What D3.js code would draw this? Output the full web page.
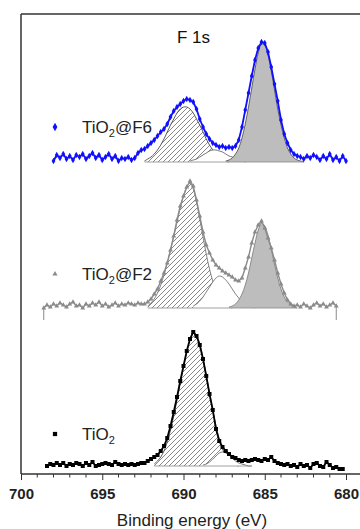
<!DOCTYPE html>
<html><head><meta charset="utf-8">
<script src="https://cdn.jsdelivr.net/npm/d3@7"></script>
<style>
html,body{margin:0;padding:0;background:#fff;}
svg{display:block;font-family:"Liberation Sans",Arial,sans-serif;}
</style></head><body>
<svg id="c" width="360" height="529"></svg>
<script>
// ---- DATA (binding energy grid: start energy, 0.2 eV step) ----
const step = 0.2;
const xTicks = [700, 695, 690, 685, 680];
const seriesNames = ["TiO2", "TiO2@F2", "TiO2@F6"];
const offsets = [8, 166, 312];           // vertical stacking offset of each spectrum (a.u.)

// TiO2 spectrum
const tio2Start = 698.4;
const tio2Data = [0,2,1,3,1,3,0,2,1,3,2,0,3,1,4,0,1,2,3,2,1,4,2,1,2,1,2,1,2,
  3,3,5,7,9,11,15,20,28,40,54,69,85,100,115,127,134,130,121,107,90,72,56,37,25,19,15,12,9,8,6,5,6,5,6,7,6,5,7,6,9,5,
  3,2,1,2,0,1,-1,2,0,1,-2,2,3,0,-1,4,1,-2,-1,-3,-3];
const tio2HatchStart = 691.8;
const tio2Hatch = [2,5,9,15,24,36,50,66,83,99,114,126,133,131,122,108,91,73,56,40,27,17,10,6,3,1,0];
const tio2WhiteStart = 688.8;
const tio2White = [1,2,4,7,10,13,14,13,11,8,5,3,2,1,0,0];

// TiO2@F2 spectrum
const f2Start = 698.6;
const f2Data = [0,3,1,4,2,5,3,1,4,6,2,3,0,4,2,5,3,6,2,4,1,3,5,2,4,3,5,4,3,5,4,
  4,6,9,14,19,27,35,45,58,72,88,102,112,121,127,122,108,92,76,63,55,48,43,40,37,35,33,31,28,27,30,40,51,65,76,83,87,80,70,60,48,35,24,15,8,4,2,3,
  1,4,2,0,3,5,2,4,1,3,5,2];
const f2HatchStart = 692.2;
const f2Hatch = [2,5,9,15,23,33,45,58,72,86,100,112,121,125,119,106,89,71,54,39,27,17,10,6,3,1,0];
const f2WhiteStart = 689.4;
const f2White = [2,4,7,11,16,21,26,30,32,31,28,24,19,14,10,6,4,2,1,0];
const f2GrayStart = 687.2;
const f2Gray = [1,2,4,8,14,23,35,50,65,78,85,82,73,59,44,30,19,11,6,3,1,0];

// TiO2@F6 spectrum
const f6Start = 698.0;
const f6Data = [1,7,4,8,3,6,2,7,5,8,3,6,9,4,7,2,5,8,3,6,1,4,3,5,2,4,
  9,12,13,16,19,22,26,30,33,38,45,51,55,58,61,63,62,60,53,43,35,28,23,19,17,15,16,14,15,14,16,22,35,52,69,86,102,114,120,119,110,95,78,61,42,28,19,12,8,6,5,
  3,6,4,7,5,2,6,3,8,2,5,1,6,1];
const f6HatchStart = 692.4;
const f6Hatch = [1,3,5,8,12,17,23,30,37,43,49,53,55,55,53,49,43,37,30,23,17,12,8,5,3,1,0];
const f6WhiteStart = 689.6;
const f6White = [1,2,3,5,7,9,11,12,12,11,10,8,6,5,3,2,1,0];
const f6GrayStart = 687.4;
const f6Gray = [1,2,4,8,14,24,38,55,74,93,109,118,117,107,91,72,53,37,24,14,8,4,2,1,0];

// ---- CHART ----
const svg = d3.select("#c");
const x = d3.scaleLinear().domain([700, 680]).range([21, 346]);
const y = d3.scaleLinear().domain([0, 460]).range([474, 14]);

const defs = svg.append("defs");
const pat = defs.append("pattern").attr("id","hatch").attr("patternUnits","userSpaceOnUse")
  .attr("width",5).attr("height",5);
pat.append("rect").attr("width",5).attr("height",5).attr("fill","#fff");
pat.append("path").attr("d","M-1,1 l2,-2 M0,5 l5,-5 M4,6 l2,-2")
  .attr("stroke","#555").attr("stroke-width",0.7);

const toPts = (start, arr) => arr.map((v,i)=>({e: +(start - i*step).toFixed(2), v}));

function drawSpectrum(k, data, comps, style){
  const off = offsets[k];
  const g = svg.append("g");
  const area = d3.area().x(d=>x(d.e)).y0(y(off)).y1(d=>y(off+d.v)).curve(d3.curveCatmullRom);
  const line = d3.line().x(d=>x(d.e)).y(d=>y(off+d.v)).curve(d3.curveCatmullRom);
  let lo = Infinity, hi = -Infinity;
  comps.forEach(c=>{ c.pts.forEach(p=>{lo=Math.min(lo,p.e);hi=Math.max(hi,p.e);}); });
  comps.forEach(c=>{
    g.append("path").datum(c.pts).attr("d",area).attr("fill",c.fill).attr("stroke","none");
    g.append("path").datum(c.pts).attr("d",line).attr("fill","none").attr("stroke",c.stroke).attr("stroke-width",0.8);
  });
  g.append("line").attr("x1",x(hi)).attr("x2",x(lo)).attr("y1",y(off)).attr("y2",y(off))
    .attr("stroke","#888").attr("stroke-width",0.8);
  const dl = d3.line().x(d=>x(d.e)).y(d=>y(off+d.v));
  g.append("path").datum(data).attr("d",dl).attr("fill","none").attr("stroke",style.color).attr("stroke-width",style.lw);
  const sym = d3.symbol().type(style.symbol).size(style.size);
  g.selectAll(".m").data(data).join("path").attr("d",sym)
    .attr("transform",d=>`translate(${x(d.e)},${y(off+d.v)})`).attr("fill",style.color);
}

// TiO2
drawSpectrum(0, toPts(tio2Start, tio2Data), [
  {pts: toPts(tio2HatchStart, tio2Hatch), fill:"url(#hatch)", stroke:"#333"},
  {pts: toPts(tio2WhiteStart, tio2White), fill:"#fff", stroke:"#555"}
], {color:"#000", symbol:d3.symbolSquare, size:16, lw:1.8});

// F2
const f2pts = toPts(f2Start, f2Data);
drawSpectrum(1, f2pts, [
  {pts: toPts(f2HatchStart, f2Hatch), fill:"url(#hatch)", stroke:"#666"},
  {pts: toPts(f2WhiteStart, f2White), fill:"#fff", stroke:"#666"},
  {pts: toPts(f2GrayStart, f2Gray), fill:"#bdbdbd", stroke:"#777"}
], {color:"#8a8a8a", symbol:d3.symbolTriangle, size:10, lw:1.4});
[f2pts[0].e, f2pts[f2pts.length-1].e].forEach(e=>{
  svg.append("line").attr("x1",x(e)).attr("x2",x(e)).attr("y1",y(offsets[1]+2)).attr("y2",y(offsets[1]-12))
    .attr("stroke","#8a8a8a").attr("stroke-width",1);
});

// F6
drawSpectrum(2, toPts(f6Start, f6Data), [
  {pts: toPts(f6HatchStart, f6Hatch), fill:"url(#hatch)", stroke:"#333"},
  {pts: toPts(f6WhiteStart, f6White), fill:"#fff", stroke:"#555"},
  {pts: toPts(f6GrayStart, f6Gray), fill:"#bdbdbd", stroke:"#444"}
], {color:"#1010ff", symbol:d3.symbolDiamond, size:12, lw:1.8});

// frame
svg.append("line").attr("x1",21).attr("x2",21).attr("y1",14).attr("y2",474).attr("stroke","#333").attr("stroke-width",1.5);
svg.append("line").attr("x1",21).attr("x2",360).attr("y1",14).attr("y2",14).attr("stroke","#333").attr("stroke-width",1.5);

// x axis
const ax = svg.append("g").attr("transform","translate(0,474)")
  .call(d3.axisBottom(x).tickValues(xTicks).tickSize(6).tickFormat(d3.format("d")));
ax.select(".domain").attr("d","M21,0H360").attr("stroke","#333").attr("stroke-width",1.5);
ax.selectAll(".tick line").attr("stroke","#333");
ax.selectAll(".tick text").attr("font-size",15).attr("font-weight","bold").attr("fill","#222")
  .attr("font-family","Liberation Sans, Arial, sans-serif").attr("dy","1.05em");
const minor = d3.range(699, 680, -1).filter(v=>v%5!==0);
svg.append("g").selectAll("line").data(minor).join("line")
  .attr("x1",d=>x(d)).attr("x2",d=>x(d)).attr("y1",474).attr("y2",477.5).attr("stroke","#333");

svg.append("text").attr("x",192).attr("y",526).attr("text-anchor","middle").attr("font-size",17)
  .attr("fill","#222").text("Binding energy (eV)");

// title
svg.append("text").attr("x",177).attr("y",43).attr("font-size",17).attr("fill","#111").text("F 1s");

// legend labels
const legend = [
  {k:2, y:133, color:"#1010ff", symbol:d3.symbolDiamond, size:20},
  {k:1, y:280, color:"#8a8a8a", symbol:d3.symbolTriangle, size:12},
  {k:0, y:440, color:"#000", symbol:d3.symbolSquare, size:18}
];
legend.forEach(l=>{
  svg.append("path").attr("d",d3.symbol().type(l.symbol).size(l.size)).attr("fill",l.color)
    .attr("transform",`translate(55,${l.y-6})`);
  const t = svg.append("text").attr("x",82).attr("y",l.y).attr("font-size",17).attr("fill","#222");
  t.append("tspan").text("TiO");
  t.append("tspan").attr("font-size",11).attr("dy",4).text("2");
  const suf = seriesNames[l.k].replace("TiO2","");
  if (suf) t.append("tspan").attr("dy",-4).text(suf);
});
</script>
</body></html>
